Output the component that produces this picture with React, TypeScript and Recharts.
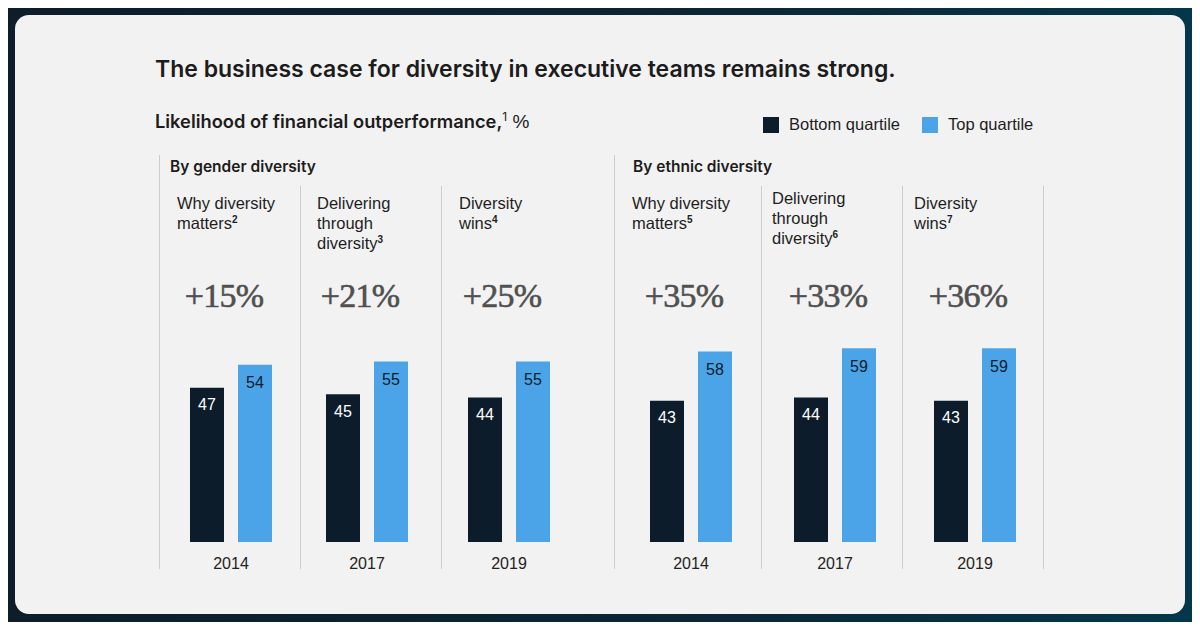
import React from "react";
import { BarChart, Bar, XAxis, YAxis, LabelList } from "recharts";

// survey years and study names, one per panel
const YEARS = ["2014", "2017", "2019"];
const STUDY_LINES = [
  ["Why diversity", "matters"],
  ["Delivering", "through", "diversity"],
  ["Diversity", "wins"],
];

// likelihood of financial outperformance, %
const GENDER_BOTTOM = [47, 45, 44];
const GENDER_TOP = [54, 55, 55];
const GENDER_UPLIFT = [15, 21, 25];
const GENDER_NOTES = [2, 3, 4];

const ETHNIC_BOTTOM = [43, 44, 43];
const ETHNIC_TOP = [58, 59, 59];
const ETHNIC_UPLIFT = [35, 33, 36];
const ETHNIC_NOTES = [5, 6, 7];

const DARK = "#0c1c2b";
const BLUE = "#4ba4e8";
const RULE = "#cdcdcd";
const SANS = "'Liberation Sans', Arial, sans-serif";
const HEAD = "Inter, 'Noto Sans', sans-serif";

// panel placement: bar-pair centre, title left edge, title nudge
const GENDER_LAYOUT = [
  { center: 231, titleX: 177, titleDy: 0 },
  { center: 367, titleX: 317, titleDy: 0 },
  { center: 509, titleX: 459, titleDy: 0 },
];
const ETHNIC_LAYOUT = [
  { center: 691, titleX: 632, titleDy: 0 },
  { center: 835, titleX: 772, titleDy: -5 },
  { center: 975, titleX: 914, titleDy: 0 },
];

const CHART_W = 140;
const CHART_TOP = 335;

function Panel({
  year,
  bottom,
  top,
  uplift,
  note,
  lines,
  layout,
}: {
  year: string;
  bottom: number;
  top: number;
  uplift: number;
  note: number;
  lines: string[];
  layout: { center: number; titleX: number; titleDy: number };
}) {
  const data = [{ year, bottom, top }];
  return (
    <>
      <div
        style={{
          position: "absolute",
          left: layout.titleX,
          top: 193 + layout.titleDy,
          fontFamily: SANS,
          fontSize: 16.5,
          lineHeight: "20px",
          color: "#1e1e1e",
        }}
      >
        {lines.map((l, i) => (
          <div key={i}>
            {l}
            {i === lines.length - 1 && (
              <sup style={{ fontSize: 10, fontWeight: 700, verticalAlign: 6, lineHeight: 0 }}>
                {note}
              </sup>
            )}
          </div>
        ))}
      </div>
      <div
        style={{
          position: "absolute",
          left: layout.center - 7 - 60,
          width: 120,
          top: 276,
          textAlign: "center",
          fontFamily: "'Liberation Serif', 'DejaVu Serif', serif",
          fontSize: 34,
          lineHeight: "40px",
          letterSpacing: -0.8,
          color: "#505050",
          WebkitTextStroke: "0.6px #505050",
        }}
      >
        +{uplift}%
      </div>
      <div style={{ position: "absolute", left: layout.center - CHART_W / 2, top: CHART_TOP }}>
        <BarChart
          width={CHART_W}
          height={247}
          data={data}
          margin={{ top: 10, right: 0, bottom: 0, left: 0 }}
          barGap={14}
        >
          <YAxis hide domain={[0, 60]} />
          <XAxis
            dataKey="year"
            axisLine={false}
            tickLine={false}
            tickMargin={10}
            height={40}
            tick={{ fill: "#222", fontSize: 16, fontFamily: SANS }}
          />
          <Bar dataKey="bottom" fill={DARK} barSize={34} isAnimationActive={false}>
            <LabelList
              dataKey="bottom"
              position="insideTop"
              offset={11}
              fill="#ffffff"
              fontSize={16}
              fontFamily={SANS}
            />
          </Bar>
          <Bar dataKey="top" fill={BLUE} barSize={34} isAnimationActive={false}>
            <LabelList
              dataKey="top"
              position="insideTop"
              offset={12}
              fill="#0c1c2b"
              fontSize={16}
              fontFamily={SANS}
            />
          </Bar>
        </BarChart>
      </div>
    </>
  );
}

function VLine({ x, y1, y2 }: { x: number; y1: number; y2: number }) {
  return (
    <div
      style={{ position: "absolute", left: x, top: y1, width: 1, height: y2 - y1, background: RULE }}
    />
  );
}

export default function App() {
  return (
    <div
      style={{
        position: "relative",
        width: 1200,
        height: 630,
        margin: -8,
        overflow: "hidden",
        background: "linear-gradient(90deg, #0d1d29 0%, #0b2636 60%, #04374a 100%)",
      }}
    >
      <div
        style={{
          position: "absolute",
          left: 15,
          top: 15,
          width: 1170,
          height: 599,
          borderRadius: 14,
          background: "#f2f2f2",
        }}
      />

      <div
        style={{
          position: "absolute",
          left: 155,
          top: 55,
          fontFamily: HEAD,
          fontWeight: 600,
          fontSize: 23,
          color: "#1c1c1c",
          whiteSpace: "nowrap",
        }}
      >
        The business case for diversity in executive teams remains strong.
      </div>

      <div
        style={{
          position: "absolute",
          left: 155,
          top: 110,
          fontFamily: HEAD,
          fontSize: 18.3,
          color: "#1c1c1c",
          whiteSpace: "nowrap",
        }}
      >
        <span style={{ fontWeight: 600 }}>Likelihood of financial outperformance,</span>
        <sup style={{ fontSize: 12, verticalAlign: 7, lineHeight: 0 }}>1</sup>
        <span style={{ fontFamily: SANS, fontSize: 19 }}> %</span>
      </div>

      {/* legend */}
      <div
        style={{
          position: "absolute",
          left: 763,
          top: 115,
          display: "flex",
          alignItems: "center",
          fontFamily: SANS,
          fontSize: 16.5,
          color: "#1e1e1e",
          whiteSpace: "nowrap",
        }}
      >
        <span style={{ width: 16, height: 16, background: DARK, marginRight: 10 }} />
        <span style={{ marginRight: 22 }}>Bottom quartile</span>
        <span style={{ width: 16, height: 16, background: BLUE, marginRight: 10 }} />
        <span>Top quartile</span>
      </div>

      {/* section headings */}
      <div
        style={{
          position: "absolute",
          left: 170,
          top: 157,
          fontFamily: HEAD,
          fontWeight: 600,
          fontSize: 15.5,
          color: "#1c1c1c",
        }}
      >
        By gender diversity
      </div>
      <div
        style={{
          position: "absolute",
          left: 633,
          top: 157,
          fontFamily: HEAD,
          fontWeight: 600,
          fontSize: 15.5,
          color: "#1c1c1c",
        }}
      >
        By ethnic diversity
      </div>

      <VLine x={159} y1={155} y2={569} />
      <VLine x={300} y1={186} y2={569} />
      <VLine x={441} y1={186} y2={569} />
      <VLine x={614} y1={155} y2={569} />
      <VLine x={761} y1={186} y2={569} />
      <VLine x={902} y1={186} y2={569} />
      <VLine x={1043} y1={186} y2={569} />

      {YEARS.map((y, i) => (
        <Panel
          key={"g" + y}
          year={y}
          bottom={GENDER_BOTTOM[i]}
          top={GENDER_TOP[i]}
          uplift={GENDER_UPLIFT[i]}
          note={GENDER_NOTES[i]}
          lines={STUDY_LINES[i]}
          layout={GENDER_LAYOUT[i]}
        />
      ))}
      {YEARS.map((y, i) => (
        <Panel
          key={"e" + y}
          year={y}
          bottom={ETHNIC_BOTTOM[i]}
          top={ETHNIC_TOP[i]}
          uplift={ETHNIC_UPLIFT[i]}
          note={ETHNIC_NOTES[i]}
          lines={STUDY_LINES[i]}
          layout={ETHNIC_LAYOUT[i]}
        />
      ))}
    </div>
  );
}
